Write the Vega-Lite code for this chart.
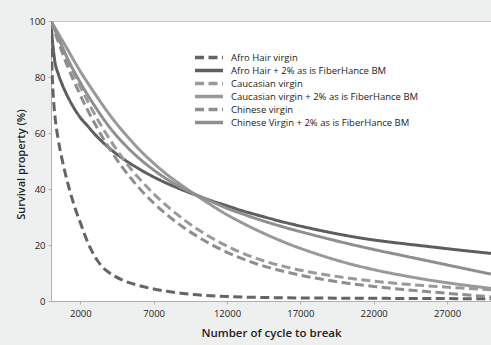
{
  "$schema": "https://vega.github.io/schema/vega-lite/v6.json",
  "width": 440,
  "height": 280,
  "autosize": {"type": "none"},
  "padding": {"left": 51, "top": 21, "right": 0, "bottom": 44},
  "background": "#eef0f0",
  "config": {
    "view": {"fill": "white", "stroke": "#c8c8c8"},
    "font": "Open Sans",
    "axis": {
      "domainColor": "#b0b0b0",
      "tickColor": "#b0b0b0",
      "tickSize": 3,
      "labelColor": "#222222",
      "titleColor": "#222222",
      "labelFont": "Open Sans",
      "titleFont": "Open Sans",
      "grid": false
    }
  },
  "datasets": {
    "curves": [
      {"s": "Afro Hair virgin", "v": 0, "p": 100},
      {"s": "Afro Hair virgin", "v": 50, "p": 86},
      {"s": "Afro Hair virgin", "v": 100, "p": 78.5},
      {"s": "Afro Hair virgin", "v": 200, "p": 70},
      {"s": "Afro Hair virgin", "v": 300, "p": 64.5},
      {"s": "Afro Hair virgin", "v": 450, "p": 59},
      {"s": "Afro Hair virgin", "v": 600, "p": 54.5},
      {"s": "Afro Hair virgin", "v": 800, "p": 49.5},
      {"s": "Afro Hair virgin", "v": 1000, "p": 45},
      {"s": "Afro Hair virgin", "v": 1250, "p": 40},
      {"s": "Afro Hair virgin", "v": 1500, "p": 35.5},
      {"s": "Afro Hair virgin", "v": 1750, "p": 31.5},
      {"s": "Afro Hair virgin", "v": 2000, "p": 28},
      {"s": "Afro Hair virgin", "v": 2500, "p": 21},
      {"s": "Afro Hair virgin", "v": 3000, "p": 15.8},
      {"s": "Afro Hair virgin", "v": 3500, "p": 12.2},
      {"s": "Afro Hair virgin", "v": 4000, "p": 10},
      {"s": "Afro Hair virgin", "v": 5000, "p": 7.2},
      {"s": "Afro Hair virgin", "v": 6000, "p": 5.5},
      {"s": "Afro Hair virgin", "v": 7000, "p": 4.3},
      {"s": "Afro Hair virgin", "v": 8000, "p": 3.4},
      {"s": "Afro Hair virgin", "v": 9000, "p": 2.7},
      {"s": "Afro Hair virgin", "v": 10000, "p": 2.2},
      {"s": "Afro Hair virgin", "v": 12000, "p": 1.6},
      {"s": "Afro Hair virgin", "v": 14000, "p": 1.3},
      {"s": "Afro Hair virgin", "v": 17000, "p": 1.1},
      {"s": "Afro Hair virgin", "v": 20000, "p": 1.0},
      {"s": "Afro Hair virgin", "v": 25000, "p": 0.9},
      {"s": "Afro Hair virgin", "v": 30000, "p": 0.8},

      {"s": "Afro Hair + 2% as is FiberHance BM", "v": 0, "p": 100},
      {"s": "Afro Hair + 2% as is FiberHance BM", "v": 100, "p": 93},
      {"s": "Afro Hair + 2% as is FiberHance BM", "v": 250, "p": 86},
      {"s": "Afro Hair + 2% as is FiberHance BM", "v": 500, "p": 81},
      {"s": "Afro Hair + 2% as is FiberHance BM", "v": 750, "p": 77.5},
      {"s": "Afro Hair + 2% as is FiberHance BM", "v": 1000, "p": 74.5},
      {"s": "Afro Hair + 2% as is FiberHance BM", "v": 1500, "p": 69.5},
      {"s": "Afro Hair + 2% as is FiberHance BM", "v": 2000, "p": 65.5},
      {"s": "Afro Hair + 2% as is FiberHance BM", "v": 2500, "p": 62.5},
      {"s": "Afro Hair + 2% as is FiberHance BM", "v": 3000, "p": 59.5},
      {"s": "Afro Hair + 2% as is FiberHance BM", "v": 4000, "p": 54.5},
      {"s": "Afro Hair + 2% as is FiberHance BM", "v": 5000, "p": 50.5},
      {"s": "Afro Hair + 2% as is FiberHance BM", "v": 6000, "p": 47.2},
      {"s": "Afro Hair + 2% as is FiberHance BM", "v": 7000, "p": 44.3},
      {"s": "Afro Hair + 2% as is FiberHance BM", "v": 8000, "p": 41.8},
      {"s": "Afro Hair + 2% as is FiberHance BM", "v": 9000, "p": 39.6},
      {"s": "Afro Hair + 2% as is FiberHance BM", "v": 10000, "p": 37.6},
      {"s": "Afro Hair + 2% as is FiberHance BM", "v": 11000, "p": 35.7},
      {"s": "Afro Hair + 2% as is FiberHance BM", "v": 12000, "p": 34},
      {"s": "Afro Hair + 2% as is FiberHance BM", "v": 13000, "p": 32.3},
      {"s": "Afro Hair + 2% as is FiberHance BM", "v": 14000, "p": 30.8},
      {"s": "Afro Hair + 2% as is FiberHance BM", "v": 16000, "p": 28},
      {"s": "Afro Hair + 2% as is FiberHance BM", "v": 18000, "p": 25.6},
      {"s": "Afro Hair + 2% as is FiberHance BM", "v": 20000, "p": 23.5},
      {"s": "Afro Hair + 2% as is FiberHance BM", "v": 22000, "p": 21.8},
      {"s": "Afro Hair + 2% as is FiberHance BM", "v": 24000, "p": 20.5},
      {"s": "Afro Hair + 2% as is FiberHance BM", "v": 26000, "p": 19.3},
      {"s": "Afro Hair + 2% as is FiberHance BM", "v": 28000, "p": 18.1},
      {"s": "Afro Hair + 2% as is FiberHance BM", "v": 30000, "p": 17},

      {"s": "Caucasian virgin", "v": 0, "p": 100},
      {"s": "Caucasian virgin", "v": 500, "p": 93.5},
      {"s": "Caucasian virgin", "v": 1000, "p": 87.5},
      {"s": "Caucasian virgin", "v": 2000, "p": 76.5},
      {"s": "Caucasian virgin", "v": 3000, "p": 66.5},
      {"s": "Caucasian virgin", "v": 4000, "p": 57.8},
      {"s": "Caucasian virgin", "v": 5000, "p": 50.2},
      {"s": "Caucasian virgin", "v": 6000, "p": 43.8},
      {"s": "Caucasian virgin", "v": 7000, "p": 38.3},
      {"s": "Caucasian virgin", "v": 8000, "p": 33.5},
      {"s": "Caucasian virgin", "v": 9000, "p": 29.3},
      {"s": "Caucasian virgin", "v": 10000, "p": 25.6},
      {"s": "Caucasian virgin", "v": 11000, "p": 22.4},
      {"s": "Caucasian virgin", "v": 12000, "p": 19.6},
      {"s": "Caucasian virgin", "v": 13000, "p": 17.2},
      {"s": "Caucasian virgin", "v": 14000, "p": 15.2},
      {"s": "Caucasian virgin", "v": 16000, "p": 12.2},
      {"s": "Caucasian virgin", "v": 18000, "p": 10},
      {"s": "Caucasian virgin", "v": 20000, "p": 8.4},
      {"s": "Caucasian virgin", "v": 22000, "p": 7.1},
      {"s": "Caucasian virgin", "v": 24000, "p": 6.1},
      {"s": "Caucasian virgin", "v": 26000, "p": 5.3},
      {"s": "Caucasian virgin", "v": 28000, "p": 4.6},
      {"s": "Caucasian virgin", "v": 30000, "p": 4},

      {"s": "Caucasian virgin + 2%  as is FiberHance BM", "v": 0, "p": 100},
      {"s": "Caucasian virgin + 2%  as is FiberHance BM", "v": 500, "p": 95.5},
      {"s": "Caucasian virgin + 2%  as is FiberHance BM", "v": 1000, "p": 91},
      {"s": "Caucasian virgin + 2%  as is FiberHance BM", "v": 2000, "p": 82},
      {"s": "Caucasian virgin + 2%  as is FiberHance BM", "v": 3000, "p": 74},
      {"s": "Caucasian virgin + 2%  as is FiberHance BM", "v": 4000, "p": 66.5},
      {"s": "Caucasian virgin + 2%  as is FiberHance BM", "v": 5000, "p": 60},
      {"s": "Caucasian virgin + 2%  as is FiberHance BM", "v": 6000, "p": 54.2},
      {"s": "Caucasian virgin + 2%  as is FiberHance BM", "v": 7000, "p": 49.2},
      {"s": "Caucasian virgin + 2%  as is FiberHance BM", "v": 8000, "p": 44.8},
      {"s": "Caucasian virgin + 2%  as is FiberHance BM", "v": 9000, "p": 41},
      {"s": "Caucasian virgin + 2%  as is FiberHance BM", "v": 10000, "p": 37.4},
      {"s": "Caucasian virgin + 2%  as is FiberHance BM", "v": 11000, "p": 34},
      {"s": "Caucasian virgin + 2%  as is FiberHance BM", "v": 12000, "p": 30.8},
      {"s": "Caucasian virgin + 2%  as is FiberHance BM", "v": 13000, "p": 28},
      {"s": "Caucasian virgin + 2%  as is FiberHance BM", "v": 14000, "p": 25.4},
      {"s": "Caucasian virgin + 2%  as is FiberHance BM", "v": 16000, "p": 20.8},
      {"s": "Caucasian virgin + 2%  as is FiberHance BM", "v": 18000, "p": 17},
      {"s": "Caucasian virgin + 2%  as is FiberHance BM", "v": 20000, "p": 13.8},
      {"s": "Caucasian virgin + 2%  as is FiberHance BM", "v": 22000, "p": 11.2},
      {"s": "Caucasian virgin + 2%  as is FiberHance BM", "v": 24000, "p": 9.1},
      {"s": "Caucasian virgin + 2%  as is FiberHance BM", "v": 26000, "p": 7.3},
      {"s": "Caucasian virgin + 2%  as is FiberHance BM", "v": 28000, "p": 5.8},
      {"s": "Caucasian virgin + 2%  as is FiberHance BM", "v": 30000, "p": 4.5},

      {"s": "Chinese virgin", "v": 0, "p": 100},
      {"s": "Chinese virgin", "v": 500, "p": 92.5},
      {"s": "Chinese virgin", "v": 1000, "p": 85.5},
      {"s": "Chinese virgin", "v": 2000, "p": 73.5},
      {"s": "Chinese virgin", "v": 3000, "p": 63.2},
      {"s": "Chinese virgin", "v": 4000, "p": 54.3},
      {"s": "Chinese virgin", "v": 5000, "p": 46.8},
      {"s": "Chinese virgin", "v": 6000, "p": 40.4},
      {"s": "Chinese virgin", "v": 7000, "p": 35},
      {"s": "Chinese virgin", "v": 8000, "p": 30.4},
      {"s": "Chinese virgin", "v": 9000, "p": 26.4},
      {"s": "Chinese virgin", "v": 10000, "p": 23},
      {"s": "Chinese virgin", "v": 11000, "p": 20},
      {"s": "Chinese virgin", "v": 12000, "p": 17.4},
      {"s": "Chinese virgin", "v": 13000, "p": 15.2},
      {"s": "Chinese virgin", "v": 14000, "p": 13.3},
      {"s": "Chinese virgin", "v": 16000, "p": 10.4},
      {"s": "Chinese virgin", "v": 18000, "p": 8.2},
      {"s": "Chinese virgin", "v": 20000, "p": 6.5},
      {"s": "Chinese virgin", "v": 22000, "p": 5.2},
      {"s": "Chinese virgin", "v": 24000, "p": 4.1},
      {"s": "Chinese virgin", "v": 26000, "p": 3.2},
      {"s": "Chinese virgin", "v": 28000, "p": 2.3},
      {"s": "Chinese virgin", "v": 30000, "p": 1.5},

      {"s": "Chinese Virgin + 2%  as is FiberHance BM", "v": 0, "p": 100},
      {"s": "Chinese Virgin + 2%  as is FiberHance BM", "v": 500, "p": 94},
      {"s": "Chinese Virgin + 2%  as is FiberHance BM", "v": 1000, "p": 88},
      {"s": "Chinese Virgin + 2%  as is FiberHance BM", "v": 2000, "p": 78},
      {"s": "Chinese Virgin + 2%  as is FiberHance BM", "v": 3000, "p": 69.5},
      {"s": "Chinese Virgin + 2%  as is FiberHance BM", "v": 4000, "p": 62},
      {"s": "Chinese Virgin + 2%  as is FiberHance BM", "v": 5000, "p": 56},
      {"s": "Chinese Virgin + 2%  as is FiberHance BM", "v": 6000, "p": 51},
      {"s": "Chinese Virgin + 2%  as is FiberHance BM", "v": 7000, "p": 46.8},
      {"s": "Chinese Virgin + 2%  as is FiberHance BM", "v": 8000, "p": 43.2},
      {"s": "Chinese Virgin + 2%  as is FiberHance BM", "v": 9000, "p": 40.2},
      {"s": "Chinese Virgin + 2%  as is FiberHance BM", "v": 10000, "p": 37.7},
      {"s": "Chinese Virgin + 2%  as is FiberHance BM", "v": 11000, "p": 35.4},
      {"s": "Chinese Virgin + 2%  as is FiberHance BM", "v": 12000, "p": 33.1},
      {"s": "Chinese Virgin + 2%  as is FiberHance BM", "v": 13000, "p": 31.2},
      {"s": "Chinese Virgin + 2%  as is FiberHance BM", "v": 14000, "p": 29.4},
      {"s": "Chinese Virgin + 2%  as is FiberHance BM", "v": 16000, "p": 26.2},
      {"s": "Chinese Virgin + 2%  as is FiberHance BM", "v": 18000, "p": 23.4},
      {"s": "Chinese Virgin + 2%  as is FiberHance BM", "v": 20000, "p": 20.8},
      {"s": "Chinese Virgin + 2%  as is FiberHance BM", "v": 22000, "p": 18.4},
      {"s": "Chinese Virgin + 2%  as is FiberHance BM", "v": 24000, "p": 16.2},
      {"s": "Chinese Virgin + 2%  as is FiberHance BM", "v": 26000, "p": 14},
      {"s": "Chinese Virgin + 2%  as is FiberHance BM", "v": 28000, "p": 11.8},
      {"s": "Chinese Virgin + 2%  as is FiberHance BM", "v": 30000, "p": 9.6}
    ]
  },
  "data": {"name": "curves"},
  "mark": {"type": "line", "strokeWidth": 3, "interpolate": "monotone", "clip": true},
  "encoding": {
    "x": {
      "field": "v",
      "type": "quantitative",
      "scale": {"domain": [0, 30000], "nice": false},
      "axis": {
        "title": "Number of cycle to break",
        "values": [2000, 7000, 12000, 17000, 22000, 27000],
        "format": "d",
        "labelFontSize": 9.5,
        "labelPadding": 4,
        "titleFontSize": 11.5,
        "titleFontWeight": 600,
        "titlePadding": 10
      }
    },
    "y": {
      "field": "p",
      "type": "quantitative",
      "scale": {"domain": [0, 100], "nice": false},
      "axis": {
        "title": "Survival property (%)",
        "values": [0, 20, 40, 60, 80, 100],
        "labelFontSize": 9.5,
        "labelPadding": 3,
        "titleFontSize": 11,
        "titleFontWeight": 600,
        "titleX": -25,
        "titleY": 143,
        "titleBaseline": "bottom"
      }
    },
    "color": {
      "field": "s",
      "type": "nominal",
      "scale": {
        "domain": ["Afro Hair virgin", "Afro Hair + 2% as is FiberHance BM", "Caucasian virgin", "Caucasian virgin + 2%  as is FiberHance BM", "Chinese virgin", "Chinese Virgin + 2%  as is FiberHance BM"],
        "range": ["#646464", "#5e5e5e", "#9a9a9a", "#999999", "#8e8e8e", "#8f8f8f"]
      },
      "legend": {
        "title": null,
        "orient": "none",
        "legendX": 142,
        "legendY": 30,
        "symbolType": "stroke",
        "symbolSize": 784,
        "symbolStrokeWidth": 3.5,
        "clipHeight": 13,
        "rowPadding": 0,
        "padding": 0,
        "labelOffset": 6,
        "labelFontSize": 9.5,
        "labelColor": "#222222",
        "labelLimit": 400
      }
    },
    "strokeDash": {
      "field": "s",
      "type": "nominal",
      "scale": {
        "domain": ["Afro Hair virgin", "Afro Hair + 2% as is FiberHance BM", "Caucasian virgin", "Caucasian virgin + 2%  as is FiberHance BM", "Chinese virgin", "Chinese Virgin + 2%  as is FiberHance BM"],
        "range": [[9, 4.5], [1, 0], [9, 4.5], [1, 0], [9, 4.5], [1, 0]]
      }
    }
  }
}
